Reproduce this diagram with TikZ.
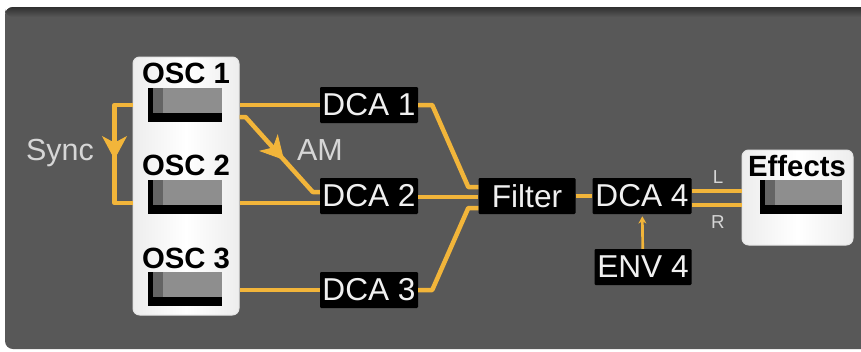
\documentclass[tikz,border=0pt]{standalone}
\usepackage{fontspec}
\setmainfont{Liberation Sans}
\usetikzlibrary{arrows.meta,decorations.markings}
\definecolor{bggray}{HTML}{585858}
\definecolor{wireyellow}{HTML}{F2B53A}
\definecolor{labelgray}{HTML}{D6D6D6}
\definecolor{keyface}{HTML}{8E8E8E}
\definecolor{keyside}{HTML}{646464}

\begin{document}
\begin{tikzpicture}[x=0.3mm,y=-0.3mm,
  wire/.style={wireyellow,line width=1.35mm,line join=round},
  module/.style={fill=black,text=white!94!black,rounded corners=1pt,inner sep=0pt,minimum height=10.8mm,font=\fontsize{27}{27}\selectfont},
  panel/.style={rounded corners=2mm,left color=gray!14,right color=gray!14,middle color=white,draw=gray!20,line width=0.3mm},
  caption/.style={font=\fontsize{25}{25}\selectfont\bfseries,inner sep=0pt,anchor=base},
  tag/.style={text=labelgray,inner sep=0pt,anchor=base,font=\fontsize{26}{26}\selectfont},
  keycap/.style={fill=black,inner sep=0pt,minimum height=10.2mm,
    path picture={
      \fill[keyface] ([xshift=1.5mm]path picture bounding box.north west) rectangle ([yshift=2.7mm]path picture bounding box.south east);
      \fill[keyside] ([xshift=1.5mm]path picture bounding box.north west) rectangle ([xshift=4.5mm,yshift=2.7mm]path picture bounding box.south west);
    }},
  midarrow/.style={postaction={decorate},decoration={markings,mark=at position #1 with {\arrow[line width=0.3mm]{Stealth[length=7mm,width=7.5mm,inset=2mm]}}}}
]
  \useasboundingbox (0,0) rectangle (861,351);
  \fill[white] (0,0) rectangle (861,351);
  \fill[bggray,rounded corners=2.4mm] (5,7) rectangle (880,349);
  \shade[top color=bggray!55!black,bottom color=bggray,rounded corners=2.4mm] (5,7) rectangle (880,17);

  \node[panel,minimum width=31.8mm,minimum height=77.4mm] (oscpanel) at (186,186) {};
  \node[caption] (osc1) at (186,83) {OSC 1};
  \node[keycap,minimum width=22.2mm] (osc1key) at (185,105) {};
  \node[caption] (osc2) at (186,175) {OSC 2};
  \node[keycap,minimum width=22.2mm] (osc2key) at (185,197) {};
  \node[caption] (osc3) at (186,268) {OSC 3};
  \node[keycap,minimum width=22.2mm] (osc3key) at (185,289) {};

  \node[panel,minimum width=33.3mm,minimum height=28.5mm] (effpanel) at (797.5,197.5) {};
  \node[caption] (effects) at (797,176) {Effects};
  \node[keycap,minimum width=24.6mm] (effkey) at (801,197) {};

  \node[module,minimum width=29.4mm] (dca1) at (369,105) {DCA 1};
  \node[module,minimum width=29.4mm] (dca2) at (369,196) {DCA 2};
  \node[module,minimum width=29.4mm] (dca3) at (369,290) {DCA 3};
  \node[module,minimum width=29.1mm] (filter) at (527,196) {Filter};
  \node[module,minimum width=29.7mm] (dca4) at (642,196) {DCA 4};
  \node[module,minimum width=29.1mm] (env4) at (643,267) {ENV 4};

  \node[tag] (sync) at (60,160) {Sync};
  \node[tag] (am) at (320,160) {AM};
  \node[tag,font=\fontsize{16}{16}\selectfont] (left) at (718,183) {L};
  \node[tag,font=\fontsize{16}{16}\selectfont] (right) at (718,228) {R};

  \draw[wire,midarrow=0.54] (oscpanel.west |- osc1key) -- ++(-18,0) |- (oscpanel.west |- 0,203);
  \draw[wire] (oscpanel.east |- osc1key) -- (dca1);
  \draw[wire,midarrow=0.56] (oscpanel.east |- 0,117) -- ++(6,0) -- ([xshift=-2.1mm]dca2.west |- 0,192) -- (dca2.west |- 0,192);
  \draw[wire] (oscpanel.east |- 0,203) -- (dca2.west |- 0,203);
  \draw[wire] (oscpanel.east |- 0,290) -- (dca3);

  \draw[wire] (dca1.east) -- ++(14,0) -- ([xshift=-3mm]filter.west |- 0,187) -- (filter.west |- 0,187);
  \draw[wire] (dca2.east |- 0,197) -- (filter.west |- 0,197);
  \draw[wire] (dca3.east) -- ++(14,0) -- ([xshift=-3mm]filter.west |- 0,208) -- (filter.west |- 0,208);
  \draw[wire] (filter) -- (dca4);
  \draw[wire,line width=1.2mm] (dca4.east |- 0,191) -- (effpanel.west |- 0,191);
  \draw[wire,line width=1.2mm] (dca4.east |- 0,204.5) -- (effpanel.west |- 0,204.5);
  \draw[wireyellow,line width=0.8mm,-{Stealth[length=2.2mm,width=2.4mm]},shorten >=0.6mm] (env4) -- (dca4);
\end{tikzpicture}
\end{document}
